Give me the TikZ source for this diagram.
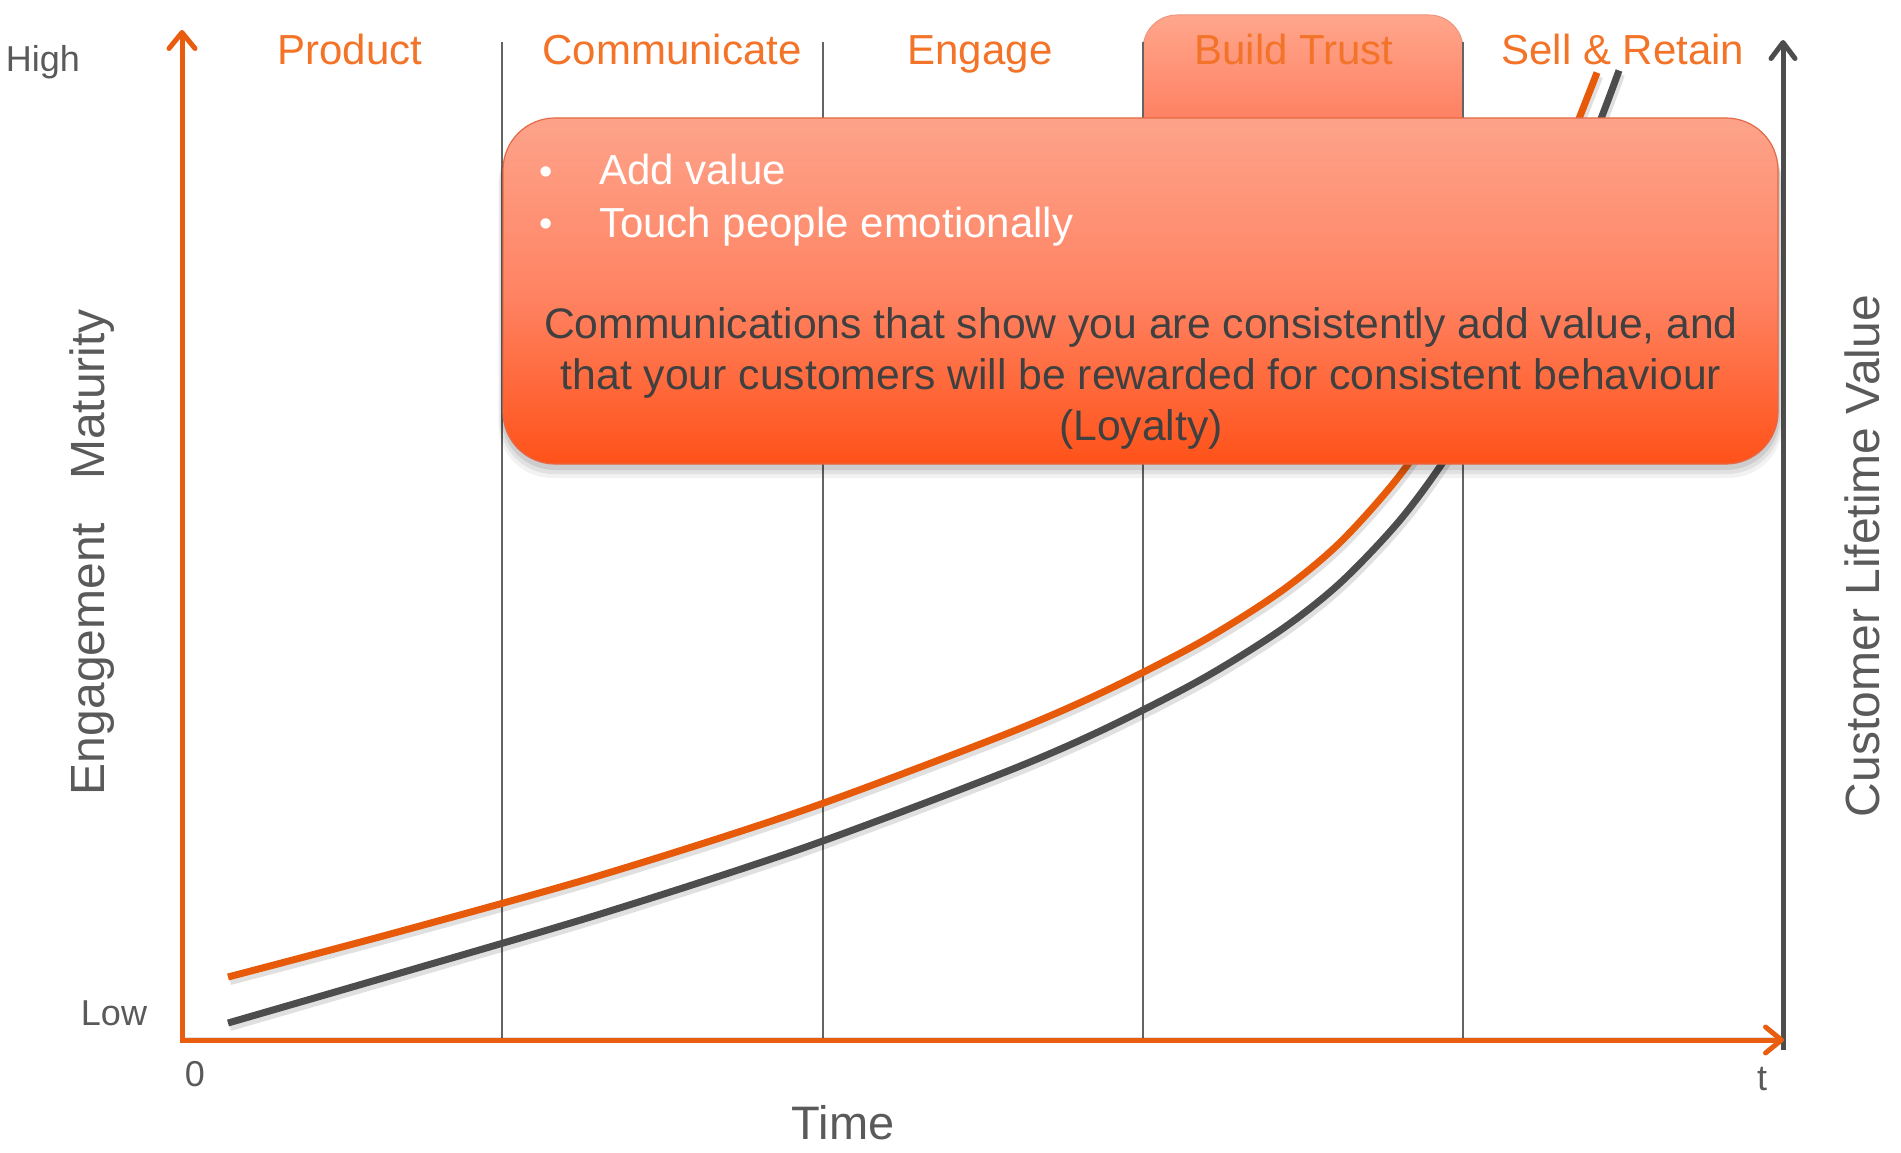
\documentclass[tikz,border=0pt]{standalone}
\usepackage{fontspec}
\setmainfont{Liberation Sans}
\usetikzlibrary{arrows.meta}
\definecolor{hdrorange}{RGB}{243,115,40}
\definecolor{axisorange}{RGB}{232,93,14}
\definecolor{curveorange}{RGB}{230,90,10}
\definecolor{curvedark}{RGB}{77,77,77}
\definecolor{lblgray}{RGB}{90,90,90}
\definecolor{bodygray}{RGB}{64,64,64}
\definecolor{divgray}{RGB}{100,100,100}
\definecolor{boxtop}{RGB}{253,163,138}
\definecolor{boxmid}{RGB}{255,132,100}
\definecolor{boxbot}{RGB}{255,82,25}
\definecolor{boxedge}{RGB}{228,105,70}
\definecolor{tabtop}{RGB}{255,166,140}
\definecolor{tabbot}{RGB}{255,112,80}
\begin{document}
\begin{tikzpicture}[x=1pt,y=-1pt,
  hdr/.style={font=\fontsize{42}{50}\selectfont, text=hdrorange, anchor=base, inner sep=0pt},
  lbl/.style={font=\fontsize{36}{43}\selectfont, text=lblgray, anchor=base, inner sep=0pt},
  axtitle/.style={font=\fontsize{48}{58}\selectfont, text=lblgray, anchor=base, inner sep=0pt},
  bullettext/.style={font=\fontsize{42}{50}\selectfont, text=white, anchor=base west, inner sep=0pt},
  bulletdot/.style={font=\fontsize{38}{46}\selectfont, text=white, anchor=center, inner sep=0pt},
  bodytext/.style={font=\fontsize{42.7}{51}\selectfont, text=bodygray, anchor=base, inner sep=0pt},
  divider/.style={draw=divgray, line width=1.5pt},
  curveo/.style={draw=curveorange, line width=7pt},
  curved/.style={draw=curvedark, line width=7pt},
  curveshadow/.style={draw=black, opacity=0.12, line width=8pt, xshift=2pt, yshift=-4pt},
  axiso/.style={draw=axisorange, line width=5pt, -{Straight Barb[length=16pt,width=26pt,round]}},
  axisd/.style={draw=curvedark, line width=5pt, -{Straight Barb[length=16pt,width=24pt,round]}},
  msgbox/.style={rectangle, rounded corners=52pt, minimum width=1275pt, minimum height=346pt,
    inner sep=0pt, top color=boxtop, bottom color=boxbot, middle color=boxmid,
    draw=boxedge, line width=1.2pt},
  tabbox/.style={rectangle, rounded corners=34pt, minimum width=320pt, minimum height=150pt,
    inner sep=0pt, top color=tabtop, bottom color=tabbot, draw=boxedge!70!white, line width=1pt}
]
\useasboundingbox (0,0) rectangle (1901,1153);

% Build Trust tab (behind dividers and box)
\node[tabbox] (tab) at (1303,90) {};

% dividers
\coordinate (d1t) at (502,42);  \coordinate (d1b) at (502,1040);
\coordinate (d2t) at (823,42);  \coordinate (d2b) at (823,1040);
\coordinate (d3t) at (1143,42); \coordinate (d3b) at (1143,1040);
\coordinate (d4t) at (1463,42); \coordinate (d4b) at (1463,1040);
\draw[divider] (d1t) -- (d1b);
\draw[divider] (d2t) -- (d2b);
\draw[divider] (d3t) -- (d3b);
\draw[divider] (d4t) -- (d4b);

% curves
\def\darkpts{(228,1023) (400,973.1) (600,914.1) (800,849.1) (1000,774.1) (1100,731.1) (1200,680.1) (1280,630.5) (1340,583.1) (1400,520.1) (1450,451.35) (1500,361.35) (1550,248.85) (1600,121.35) (1619,70.5)}
\def\orangepts{(228,977) (400,931.4) (600,875.4) (800,811.4) (1000,736.4) (1100,693.4) (1200,642.4) (1280,592) (1340,542.5) (1400,475) (1450,400) (1500,305) (1550,191.25) (1597,72.6)}
\draw[curveshadow] plot[smooth, tension=0.5] coordinates {\darkpts};
\draw[curveshadow] plot[smooth, tension=0.5] coordinates {\orangepts};
\draw[curved] plot[smooth, tension=0.5] coordinates {\darkpts};
\draw[curveo] plot[smooth, tension=0.5] coordinates {\orangepts};

% axes
\coordinate (orig) at (182,1040);
\coordinate (ytop) at (182,30);
\coordinate (xend) at (1784,1040);
\coordinate (rbot) at (1783,1050);
\coordinate (rtop) at (1783,40);
\draw[draw=black, opacity=0.12, line width=6pt, xshift=2pt, yshift=-4pt] (orig) -- (xend);
\draw[axisd] (rbot) -- (rtop);
\draw[axiso] (orig) -- (ytop);
\draw[axiso] ([xshift=-2.5pt]orig) -- (xend);

% headers
\node[hdr] (hprod) at (350,65) {Product};
\node[hdr] (hcomm) at (672,65) {Communicate};
\node[hdr] (heng)  at (980,65) {Engage};
\node[hdr] (htrust) at (1294,65) {Build Trust};
\node[hdr] (hsell) at (1623,65) {Sell \& Retain};

% message box with shadow
\foreach \s/\o in {14/0.05, 10/0.07, 6/0.09} {
  \fill[black, opacity=\o, rounded corners=54pt] (503-\s/3,118+\s) rectangle (1778+\s/3,464+\s);
}
\node[msgbox] (msg) at (1140.5,291) {};

\node[bulletdot] (dot1) at (546,176) {•};
\node[bulletdot] (dot2) at (546,228) {•};
\node[bullettext] (b1) at (599,185) {Add value};
\node[bullettext] (b2) at (599,237) {Touch people emotionally};
\node[bodytext] (m1) at (1141,338) {Communications that show you are consistently add value, and};
\node[bodytext] (m2) at (1141,389) {that your customers will be rewarded for consistent behaviour};
\node[bodytext] (m3) at (1141,440) {(Loyalty)};

% axis labels
\node[lbl] (high) at (43,72) {High};
\node[lbl] (low) at (114,1025) {Low};
\node[lbl] (zero) at (195,1086) {0};
\node[lbl] (tee) at (1762,1090) {t};
\node[axtitle, font=\fontsize{47}{56}\selectfont] (time) at (843,1139) {Time};
\node[axtitle, rotate=90] (ylab) at (104,552) {Engagement\hspace{0.9em}Maturity};
\node[axtitle, rotate=90] (clv) at (1879,556) {Customer Lifetime Value};
\end{tikzpicture}
\end{document}
